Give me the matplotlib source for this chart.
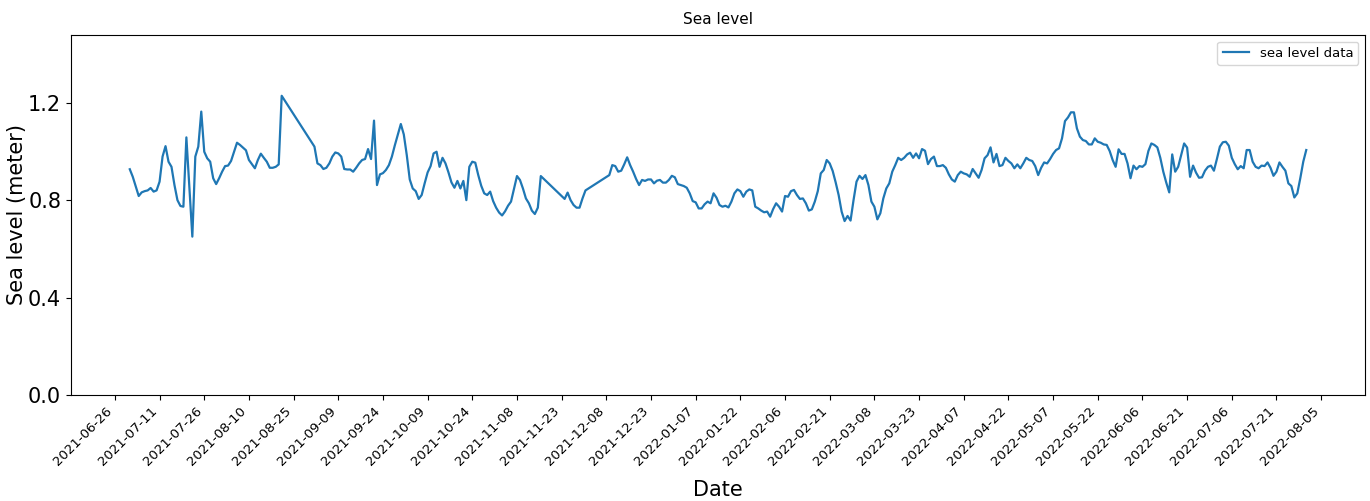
import pandas as pd
import numpy as np
import matplotlib
matplotlib.use("Agg")
import matplotlib.pyplot as plt
import matplotlib.dates as mdates

dates_2021 = [
    "07-01", "07-02", "07-04", "07-05", "07-06", "07-07", "07-08", "07-09", "07-10", "07-11",
    "07-12", "07-13", "07-14", "07-15", "07-16", "07-17", "07-18", "07-19", "07-20", "07-22",
    "07-23", "07-24", "07-25", "07-26", "07-27", "07-28", "07-29", "07-30", "07-31",
    "08-01", "08-02", "08-03", "08-04", "08-05", "08-06", "08-07", "08-08", "08-09", "08-10",
    "08-11", "08-12", "08-13", "08-14", "08-15", "08-16", "08-17", "08-18", "08-19", "08-20",
    "08-21",
    "09-01", "09-02", "09-03", "09-04", "09-05", "09-06", "09-07", "09-08", "09-09", "09-10",
    "09-11", "09-12", "09-13", "09-14", "09-15", "09-16", "09-17", "09-18", "09-19", "09-20",
    "09-21", "09-22", "09-23", "09-24", "09-25", "09-26", "09-27", "09-28", "09-30",
    "10-01", "10-02", "10-03", "10-04", "10-05", "10-06", "10-07", "10-08", "10-09", "10-10",
    "10-11", "10-12", "10-13", "10-14", "10-15", "10-16", "10-17", "10-18", "10-19", "10-20",
    "10-21", "10-22", "10-23", "10-24", "10-25", "10-26", "10-27", "10-28", "10-29", "10-30",
    "10-31",
    "11-01", "11-02", "11-03", "11-04", "11-05", "11-06", "11-08", "11-09", "11-10", "11-11",
    "11-12", "11-13", "11-14", "11-15", "11-16", "11-24", "11-25", "11-26", "11-27", "11-28",
    "11-29", "11-30",
    "12-01", "12-09", "12-10", "12-11", "12-12", "12-13", "12-14", "12-15", "12-16", "12-17",
    "12-18", "12-19", "12-20", "12-21", "12-22", "12-23", "12-24", "12-25", "12-26", "12-27",
    "12-28", "12-29", "12-30", "12-31",
]
level_2021 = [
    0.928, 0.897, 0.818, 0.833, 0.838, 0.841, 0.851, 0.836, 0.841, 0.877,
    0.980, 1.023, 0.959, 0.938, 0.863, 0.801, 0.777, 0.774, 1.059, 0.651,
    0.980, 1.021, 1.165, 1.000, 0.973, 0.959, 0.891, 0.867, 0.891,
    0.918, 0.941, 0.943, 0.962, 1.000, 1.037, 1.028, 1.017, 1.006, 0.966,
    0.949, 0.932, 0.966, 0.992, 0.975, 0.959, 0.934, 0.934, 0.938, 0.948,
    1.230,
    1.021, 0.952, 0.945, 0.929, 0.934, 0.952, 0.980, 0.997, 0.993, 0.980,
    0.929, 0.927, 0.927, 0.918, 0.934, 0.952, 0.966, 0.970, 1.011, 0.970,
    1.128, 0.863, 0.907, 0.912, 0.925, 0.945, 0.980, 1.027, 1.114,
    1.071, 0.986, 0.886, 0.849, 0.838, 0.806, 0.822, 0.870, 0.915, 0.941,
    0.993, 1.000, 0.938, 0.975, 0.952, 0.915, 0.874, 0.852, 0.880, 0.849,
    0.880, 0.801, 0.938, 0.959, 0.955, 0.904, 0.860, 0.829, 0.822, 0.836,
    0.797,
    0.770, 0.750, 0.738, 0.755, 0.778, 0.795, 0.900, 0.884, 0.849, 0.808,
    0.788, 0.758, 0.744, 0.770, 0.900, 0.806, 0.832, 0.801, 0.781, 0.770,
    0.770, 0.808,
    0.841, 0.904, 0.945, 0.941, 0.918, 0.922, 0.948, 0.977, 0.945, 0.918,
    0.888, 0.863, 0.884, 0.880, 0.886, 0.886, 0.870, 0.881, 0.884, 0.873,
    0.873, 0.884, 0.901, 0.895,
]

dates_2022 = [
    "01-01", "01-02", "01-03", "01-04", "01-05", "01-06", "01-07", "01-08", "01-09", "01-10",
    "01-11", "01-12", "01-13", "01-14", "01-15", "01-16", "01-17", "01-18", "01-19", "01-20",
    "01-21", "01-22", "01-23", "01-24", "01-25", "01-26", "01-27", "01-28", "01-29", "01-30",
    "01-31",
    "02-01", "02-02", "02-03", "02-04", "02-05", "02-06", "02-07", "02-08", "02-09", "02-10",
    "02-11", "02-12", "02-13", "02-14", "02-15", "02-16", "02-17", "02-18", "02-19", "02-20",
    "02-21", "02-22", "02-23", "02-24", "02-25", "02-26", "02-27", "02-28",
    "03-01", "03-02", "03-03", "03-04", "03-05", "03-06", "03-07", "03-08", "03-09", "03-10",
    "03-11", "03-12", "03-13", "03-14", "03-15", "03-16", "03-17", "03-18", "03-19", "03-20",
    "03-21", "03-22", "03-23", "03-24", "03-25", "03-26", "03-27", "03-28", "03-29", "03-30",
    "03-31",
    "04-01", "04-02", "04-03", "04-04", "04-05", "04-06", "04-07", "04-08", "04-09", "04-10",
    "04-11", "04-12", "04-13", "04-14", "04-15", "04-16", "04-17", "04-18", "04-19", "04-20",
    "04-21", "04-22", "04-23", "04-24", "04-25", "04-26", "04-27", "04-28", "04-29", "04-30",
    "05-01", "05-02", "05-03", "05-04", "05-05", "05-06", "05-07", "05-08", "05-09", "05-10",
    "05-11", "05-12", "05-13", "05-14", "05-15", "05-16", "05-17", "05-18", "05-19", "05-20",
    "05-21", "05-22", "05-23", "05-24", "05-25", "05-26", "05-27", "05-28", "05-29", "05-30",
    "05-31",
    "06-01", "06-02", "06-03", "06-04", "06-05", "06-06", "06-07", "06-08", "06-09", "06-10",
    "06-11", "06-12", "06-13", "06-14", "06-15", "06-16", "06-17", "06-18", "06-19", "06-20",
    "06-21", "06-22", "06-23", "06-24", "06-25", "06-26", "06-27", "06-28", "06-29", "06-30",
    "07-01", "07-02", "07-03", "07-04", "07-05", "07-06", "07-07", "07-08", "07-09", "07-10",
    "07-11", "07-12", "07-13", "07-14", "07-15", "07-16", "07-17", "07-18", "07-19", "07-20",
    "07-21", "07-22", "07-23", "07-24", "07-25", "07-26", "07-27", "07-28", "07-29", "07-30",
    "07-31",
]
level_2022 = [
    0.867, 0.863, 0.859, 0.852, 0.829, 0.797, 0.792, 0.767, 0.767, 0.784,
    0.795, 0.788, 0.829, 0.811, 0.781, 0.774, 0.778, 0.771, 0.795, 0.829,
    0.845, 0.838, 0.815, 0.836, 0.845, 0.841, 0.774, 0.767, 0.758, 0.751,
    0.754,
    0.733, 0.764, 0.788, 0.774, 0.754, 0.818, 0.815, 0.838, 0.843, 0.822,
    0.806, 0.808, 0.788, 0.758, 0.763, 0.795, 0.838, 0.911, 0.925, 0.966,
    0.952, 0.921, 0.874, 0.822, 0.754, 0.715, 0.736, 0.717,
    0.801, 0.877, 0.901, 0.888, 0.904, 0.863, 0.795, 0.774, 0.722, 0.747,
    0.808, 0.849, 0.870, 0.918, 0.945, 0.975, 0.966, 0.975, 0.989, 0.996,
    0.975, 0.993, 0.973, 1.011, 1.004, 0.949, 0.970, 0.980, 0.941, 0.941,
    0.945,
    0.934, 0.907, 0.886, 0.877, 0.904, 0.918, 0.911, 0.907, 0.897, 0.929,
    0.911, 0.893, 0.925, 0.973, 0.986, 1.018, 0.956, 0.991, 0.941, 0.945,
    0.975, 0.962, 0.952, 0.932, 0.948, 0.932, 0.952, 0.975, 0.966, 0.962,
    0.941, 0.904, 0.934, 0.956, 0.952, 0.970, 0.991, 1.007, 1.014, 1.055,
    1.126, 1.141, 1.162, 1.162, 1.096, 1.062, 1.048, 1.044, 1.030, 1.030,
    1.055, 1.041, 1.037, 1.030, 1.028, 1.003, 0.966, 0.938, 1.010, 0.991,
    0.991,
    0.952, 0.891, 0.943, 0.928, 0.941, 0.938, 0.949, 1.003, 1.034, 1.028,
    1.018, 0.975, 0.918, 0.873, 0.833, 0.989, 0.918, 0.938, 0.986, 1.034,
    1.017, 0.897, 0.943, 0.914, 0.893, 0.895, 0.922, 0.938, 0.943, 0.922,
    0.970, 1.021, 1.039, 1.041, 1.025, 0.975, 0.949, 0.928, 0.941, 0.932,
    1.007, 1.007, 0.959, 0.938, 0.932, 0.943, 0.941, 0.956, 0.934, 0.901,
    0.918, 0.956, 0.938, 0.922, 0.870, 0.859, 0.812, 0.829, 0.891, 0.959,
    1.007,
]

y_ticks = [0.0, 0.4, 0.8, 1.2]

df = pd.DataFrame({
    "date": pd.to_datetime(["2021-" + d for d in dates_2021] + ["2022-" + d for d in dates_2022]),
    "sea_level": level_2021 + level_2022,
})

# tick every 15 days, as in the original
tick_dates = pd.date_range("2021-06-26", "2022-08-05", freq="15D")

fig = plt.figure(figsize=(13.7, 5.01), dpi=100)
ax = fig.add_axes([0.0518, 0.2116, 0.9446, 0.7186])

ax.plot(df["date"], df["sea_level"], color="tab:blue", linewidth=1.6, label="sea level data")

ax.set_ylim(0, 1.48)
ax.set_yticks(y_ticks)
ax.set_xticks(tick_dates)
ax.xaxis.set_major_formatter(mdates.DateFormatter("%Y-%m-%d"))
plt.setp(ax.get_xticklabels(), rotation=45, ha="right", fontsize=9.5)
ax.tick_params(axis="y", labelsize=15)

ax.set_title("Sea level", fontsize=11, pad=8)
ax.set_xlabel("Date", fontsize=15, labelpad=8)
ax.set_ylabel("Sea level (meter)", fontsize=15, labelpad=1)
ax.legend(loc="upper right", fontsize=9.5)

fig.savefig("out.png", dpi=100)
